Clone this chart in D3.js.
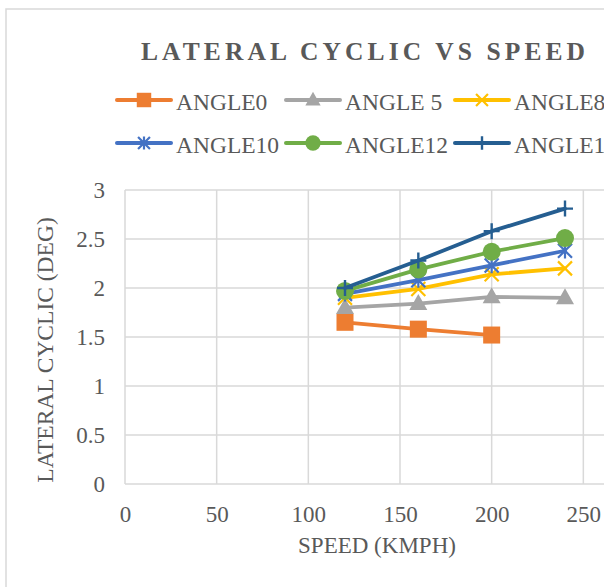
<!DOCTYPE html>
<html>
<head>
<meta charset="utf-8">
<script src="https://cdn.jsdelivr.net/npm/d3@7"></script>
<style>
  html, body { margin: 0; padding: 0; background: #fff; overflow: hidden; }
  svg { display: block; }
  text { font-family: "Liberation Serif", "Times New Roman", serif; fill: #595959; }
</style>
</head>
<body>
<svg id="chart" width="604" height="587"></svg>
<script>
// ---- data ----
const speeds = [120, 160, 200, 240];
const seriesNames = ["ANGLE0", "ANGLE 5", "ANGLE8", "ANGLE10", "ANGLE12", "ANGLE15"];
const angle0  = [1.65, 1.58, 1.52];
const angle5  = [1.80, 1.84, 1.91, 1.90];
const angle8  = [1.90, 1.99, 2.14, 2.20];
const angle10 = [1.94, 2.08, 2.23, 2.38];
const angle12 = [1.97, 2.19, 2.37, 2.51];
const angle15 = [2.00, 2.28, 2.58, 2.81];
const xTicks = [0, 50, 100, 150, 200, 250, 300];
const yTicks = [0, 0.5, 1, 1.5, 2, 2.5, 3];
const titleText = "LATERAL CYCLIC VS SPEED";
const xTitle = "SPEED (KMPH)";
const yTitle = "LATERAL CYCLIC (DEG)";

const colors = ["#ED7D31", "#A5A5A5", "#FFC000", "#4472C4", "#70AD47", "#255E91"];
const markers = ["square", "triangle", "x", "asterisk", "circle", "plus"];
const values = [angle0, angle5, angle8, angle10, angle12, angle15];
const series = seriesNames.map((n, i) => ({
  name: n, color: colors[i], marker: markers[i],
  points: values[i].map((v, j) => ({ x: speeds[j], y: v }))
}));

// ---- layout ----
const svg = d3.select("#chart");
const plot = { left: 125, right: 675, top: 190, bottom: 484 };
const x = d3.scaleLinear().domain([0, 300]).range([plot.left, plot.right]);
const y = d3.scaleLinear().domain([0, 3]).range([plot.bottom, plot.top]);

// chart border
svg.append("rect").attr("x", 6).attr("y", 9).attr("width", 800).attr("height", 700)
  .attr("fill", "none").attr("stroke", "#D9D9D9").attr("stroke-width", 1.5);

// gridlines
const grid = svg.append("g");
grid.selectAll("line.h").data(yTicks).join("line")
  .attr("x1", plot.left).attr("x2", plot.right)
  .attr("y1", d => y(d)).attr("y2", d => y(d))
  .attr("stroke", "#D9D9D9").attr("stroke-width", 1.5);
grid.selectAll("line.v").data(xTicks).join("line")
  .attr("y1", plot.top).attr("y2", plot.bottom)
  .attr("x1", d => x(d)).attr("x2", d => x(d))
  .attr("stroke", "#D9D9D9").attr("stroke-width", 1.5);

// axes labels via d3 axes
const yAxis = d3.axisLeft(y).tickValues(yTicks).tickSize(0).tickPadding(20)
  .tickFormat(d => d3.format("")(d));
const gy = svg.append("g").attr("transform", `translate(${plot.left},0)`).call(yAxis);
gy.select(".domain").remove();
gy.selectAll("text").attr("font-size", 23).attr("font-family", "Liberation Serif").attr("fill", "#595959");

const xAxis = d3.axisBottom(x).tickValues(xTicks).tickSize(0).tickPadding(22)
  .tickFormat(d3.format(""));
const gx = svg.append("g").attr("transform", `translate(0,${plot.bottom})`).call(xAxis);
gx.select(".domain").remove();
gx.selectAll("text").attr("font-size", 23).attr("font-family", "Liberation Serif").attr("fill", "#595959");

// titles
svg.append("text").attr("x", 141).attr("y", 60)
  .attr("font-size", 25.5).attr("font-weight", "bold")
  .attr("textLength", 444).attr("lengthAdjust", "spacing")
  .text(titleText);
svg.append("text").attr("x", 377).attr("y", 553).attr("text-anchor", "middle")
  .attr("font-size", 23).text(xTitle);
svg.append("text").attr("transform", "translate(53,350) rotate(-90)")
  .attr("text-anchor", "middle").attr("font-size", 23.5).text(yTitle);

// marker drawing
function drawMarker(g, type, color, cx, cy, s) {
  const k = s;
  if (type === "square") {
    g.append("rect").attr("x", cx - 8.5 * k).attr("y", cy - 8.5 * k)
      .attr("width", 17 * k).attr("height", 17 * k).attr("fill", color);
  } else if (type === "triangle") {
    const h = 16 * k, w = 18 * k;
    g.append("path").attr("d", `M${cx},${cy - h * 0.6}L${cx + w / 2},${cy + h * 0.4}L${cx - w / 2},${cy + h * 0.4}Z`)
      .attr("fill", color);
  } else if (type === "circle") {
    g.append("circle").attr("cx", cx).attr("cy", cy).attr("r", 9 * k).attr("fill", color);
  } else if (type === "x") {
    const r = 7 * k;
    g.append("path").attr("d", `M${cx - r},${cy - r}L${cx + r},${cy + r}M${cx - r},${cy + r}L${cx + r},${cy - r}`)
      .attr("stroke", color).attr("stroke-width", 2.2).attr("fill", "none");
  } else if (type === "asterisk") {
    const r = 7 * k;
    g.append("path").attr("d", `M${cx - r},${cy - r}L${cx + r},${cy + r}M${cx - r},${cy + r}L${cx + r},${cy - r}M${cx},${cy - r * 1.1}L${cx},${cy + r * 1.1}`)
      .attr("stroke", color).attr("stroke-width", 2.2).attr("fill", "none");
  } else if (type === "plus") {
    const r = 8 * k;
    g.append("path").attr("d", `M${cx - r},${cy}L${cx + r},${cy}M${cx},${cy - r}L${cx},${cy + r}`)
      .attr("stroke", color).attr("stroke-width", 2.4).attr("fill", "none");
  }
}

// series
const line = d3.line().x(d => x(d.x)).y(d => y(d.y));
series.forEach(s => {
  const g = svg.append("g");
  g.append("path").datum(s.points).attr("d", line)
    .attr("fill", "none").attr("stroke", s.color).attr("stroke-width", 3.8)
    .attr("stroke-linejoin", "round").attr("stroke-linecap", "round");
  s.points.forEach(p => drawMarker(g, s.marker, s.color, x(p.x), y(p.y), 1));
});

// legend
const legendX = [117, 286, 455];
const legendY = [100, 143];
series.forEach((s, i) => {
  const lx = legendX[i % 3], ly = legendY[Math.floor(i / 3)];
  const g = svg.append("g");
  g.append("line").attr("x1", lx).attr("x2", lx + 54).attr("y1", ly).attr("y2", ly)
    .attr("stroke", s.color).attr("stroke-width", 4).attr("stroke-linecap", "round");
  drawMarker(g, s.marker, s.color, lx + 27, ly, 0.85);
  g.append("text").attr("x", lx + 59).attr("y", ly + 10).attr("font-size", 23.5).text(s.name);
});
</script>
</body>
</html>
